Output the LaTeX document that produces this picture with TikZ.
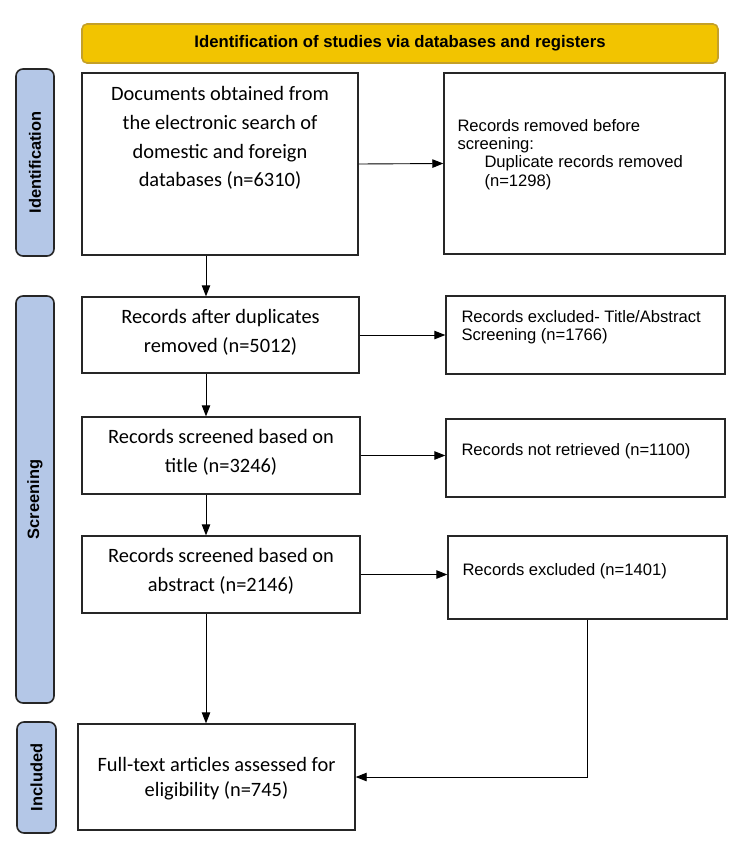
\documentclass[tikz,border=0pt]{standalone}
\usepackage{fontspec}
\setmainfont{Liberation Sans}
\newfontfamily\calibfont{Carlito}
\usetikzlibrary{arrows.meta, calc}
\definecolor{headfill}{RGB}{242,196,0}
\definecolor{headline}{RGB}{196,160,40}
\definecolor{phasefill}{RGB}{180,199,231}

\begin{document}
\begin{tikzpicture}[x=1pt, y=-1pt,
    box/.style={draw=black!85, line width=1.4pt, inner sep=0pt},
    phase/.style={draw=black!85, line width=1.6pt, fill=phasefill, rounded corners=7pt, inner sep=0pt, rotate=90, font=\bfseries\fontsize{16.4}{18}\selectfont},
    head/.style={draw=headline, line width=1.6pt, fill=headfill, rounded corners=5pt, inner sep=0pt, font=\bfseries\fontsize{16.7}{18}\selectfont},
    lefttxt/.style={anchor=north, align=center, inner sep=0pt, font=\calibfont\fontsize{20.4}{28.7}\selectfont},
    righttxt/.style={anchor=north west, align=left, inner sep=0pt, font=\fontsize{16.6}{18.2}\selectfont},
    arr/.style={line width=0.9pt, -{Triangle[length=11pt,width=8.5pt]}}]
    \useasboundingbox (0,0) rectangle (739,849);

    % header and phase bars
    \node[head, minimum width=636pt, minimum height=39pt] (head) at (400,43.5) {Identification of studies via databases and registers};
    \node[phase, minimum width=187pt, minimum height=38pt] (idbar) at (35,162.5) {Identification};
    \node[phase, minimum width=407pt, minimum height=38pt] (scrbar) at (35,499.5) {Screening};
    \node[phase, minimum width=111pt, minimum height=39pt] (incbar) at (36.5,777.5) {Included};

    % boxes
    \node[box, minimum width=276pt, minimum height=182pt] (docs) at (220,164) {};
    \node[box, minimum width=281pt, minimum height=181pt] (removed) at (584.5,163.5) {};
    \node[box, minimum width=277pt, minimum height=76pt] (dup) at (220.5,335) {};
    \node[box, minimum width=279pt, minimum height=78pt] (excl1) at (585.5,335) {};
    \node[box, minimum width=278pt, minimum height=77pt] (title) at (221,455.5) {};
    \node[box, minimum width=279pt, minimum height=78pt] (notret) at (585.5,458) {};
    \node[box, minimum width=278pt, minimum height=77pt] (abstract) at (221,574.5) {};
    \node[box, minimum width=279pt, minimum height=83pt] (excl2) at (587.5,577.5) {};
    \node[box, minimum width=277pt, minimum height=106pt] (fulltext) at (216.5,777) {};

    % texts
    \node[lefttxt] (docstxt) at ($(docs.north)+(0,14)$) {Documents obtained from\\the electronic search of\\domestic and foreign\\databases (n=6310)};
    \node[lefttxt] (duptxt) at ($(dup.north)+(0,13)$) {Records after duplicates\\removed (n=5012)};
    \node[lefttxt] (titletxt) at ($(title.north)+(0,13)$) {Records screened based on\\title (n=3246)};
    \node[lefttxt] (abstracttxt) at ($(abstract.north)+(0,13)$) {Records screened based on\\abstract (n=2146)};
    \node[lefttxt, font=\calibfont\fontsize{20.4}{25}\selectfont] (fulltexttxt) at ($(fulltext.north)+(0,34)$) {Full-text articles assessed for\\eligibility (n=745)};

    \node[righttxt] (removedtxt) at ($(removed.north west)+(14,47)$) {Records removed before\\screening:\\\hspace*{27pt}Duplicate records removed\\\hspace*{27pt}(n=1298)};
    \node[righttxt] (excl1txt) at ($(excl1.north west)+(16,14.5)$) {Records excluded- Title/Abstract\\Screening (n=1766)};
    \node[righttxt] (notrettxt) at ($(notret.north west)+(16,24.5)$) {Records not retrieved (n=1100)};
    \node[righttxt] (excl2txt) at ($(excl2.north west)+(15,27.5)$) {Records excluded (n=1401)};

    % connectors
    \coordinate (spine) at (206,0);
    \draw[arr] (docs.east) -- (removed.west);
    \draw[arr] (docs.south -| spine) -- (dup.north -| spine);
    \draw[arr] (dup.east) -- (dup.east -| excl1.west);
    \draw[arr] (dup.south -| spine) -- (title.north -| spine);
    \draw[arr] (title.east) -- (title.east -| notret.west);
    \draw[arr] (title.south -| spine) -- (abstract.north -| spine);
    \draw[arr] (abstract.east) -- (abstract.east -| excl2.west);
    \draw[arr] (abstract.south -| spine) -- (fulltext.north -| spine);
    \draw[arr] (excl2.south) |- (fulltext.east);
\end{tikzpicture}
\end{document}
